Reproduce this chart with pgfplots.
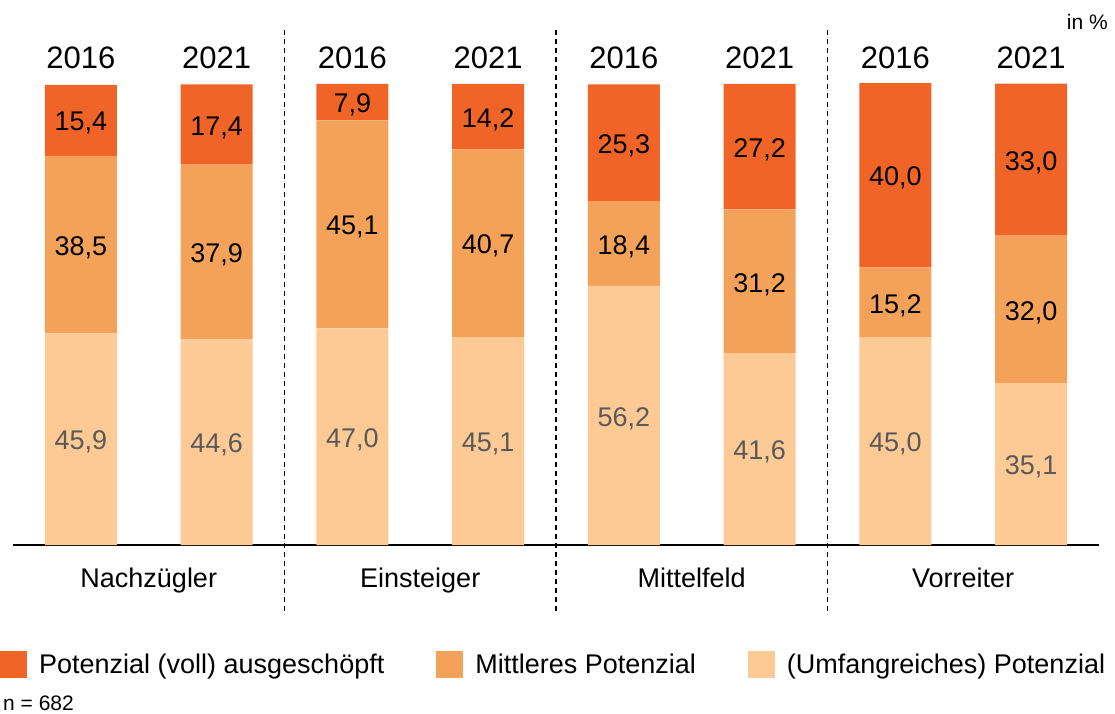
\documentclass[border=0pt]{standalone}
\usepackage{fontspec}
\setmainfont{Liberation Sans}
\usepackage{pgfplots}
\pgfplotsset{compat=1.18}

\definecolor{voll}{HTML}{F06428}
\definecolor{mittel}{HTML}{F4A259}
\definecolor{umfang}{HTML}{FDCA96}
\definecolor{grautext}{HTML}{595959}

\newcommand{\fs}[1]{\fontsize{#1}{#1}\selectfont}

\begin{document}
\begin{tikzpicture}
\path[use as bounding box] (0,0) rectangle (1115pt,713pt);

% stacked bars
\begin{axis}[
  at={(13pt,168pt)}, anchor=south west,
  scale only axis, width=1086pt, height=461pt,
  ybar stacked, bar width=72pt,
  xmin=-0.5, xmax=7.5, ymin=0, ymax=100,
  axis x line=bottom, axis y line=none,
  x axis line style={-, line width=1.6pt},
  xtick={0.5,2.5,4.5,6.5},
  xticklabels={Nachzügler,Einsteiger,Mittelfeld,Vorreiter},
  major tick length=0pt,
  xticklabel style={font=\fs{27}, yshift=-19pt},
  clip=false,
  reverse legend,
  legend columns=3,
  legend image code/.code={\fill[#1] (0pt,-13.5pt) rectangle (27pt,13.5pt);},
  legend style={at={(axis description cs:-0.012,-0.26)}, anchor=west,
    draw=none, inner sep=0pt, font=\fs{27},
    /tikz/every odd column/.append style={column sep=10pt},
    /tikz/every even column/.append style={column sep=50pt}},
]
\addplot[fill=umfang, draw=none] coordinates {
  (0,45.9) (1,44.6) (2,47.0) (3,45.1) (4,56.2) (5,41.6) (6,45.0) (7,35.1)};
\addplot[fill=mittel, draw=none] coordinates {
  (0,38.5) (1,37.9) (2,45.1) (3,40.7) (4,18.4) (5,31.2) (6,15.2) (7,32.0)};
\addplot[fill=voll, draw=none] coordinates {
  (0,15.4) (1,17.4) (2,7.9) (3,14.2) (4,25.3) (5,27.2) (6,40.0) (7,33.0)};
\legend{(Umfangreiches) Potenzial, Mittleres Potenzial, Potenzial (voll) ausgeschöpft}

\draw[black, line width=1.2pt, dash pattern=on 5pt off 4pt]
  (axis cs:1.5,111.7) -- (axis cs:1.5,-14.5);
\draw[black, line width=1.2pt, dash pattern=on 5pt off 4pt]
  (axis cs:3.5,111.7) -- (axis cs:3.5,-14.5);
\draw[black, line width=1.2pt, dash pattern=on 5pt off 4pt]
  (axis cs:5.5,111.7) -- (axis cs:5.5,-14.5);
\end{axis}

% value labels and years
\begin{axis}[
  at={(13pt,168pt)}, anchor=south west,
  scale only axis, width=1086pt, height=461pt,
  xmin=-0.5, xmax=7.5, ymin=0, ymax=100,
  hide y axis, axis x line=top,
  axis line style={draw=none},
  major tick length=0pt,
  xtick={0,...,7},
  xticklabels={2016,2021,2016,2021,2016,2021,2016,2021},
  xticklabel style={font=\fs{31}, yshift=12pt},
  clip=false,
  point meta=explicit symbolic,
  nodes near coords,
  every node near coord/.append style={anchor=center, font=\fs{27}, yshift=-3pt},
]
\addplot[draw=none, every node near coord/.append style={text=grautext}] coordinates {
  (0,22.95)[45,9] (1,22.3)[44,6] (2,23.5)[47,0] (3,22.55)[45,1]
  (4,28.1)[56,2] (5,20.8)[41,6] (6,22.5)[45,0] (7,17.55)[35,1]};
\addplot[draw=none, every node near coord/.append style={text=black}] coordinates {
  (0,65.15)[38,5] (1,63.55)[37,9] (2,69.55)[45,1] (3,65.45)[40,7]
  (4,65.4)[18,4] (5,57.2)[31,2] (6,52.6)[15,2] (7,51.1)[32,0]};
\addplot[draw=none, every node near coord/.append style={text=black}] coordinates {
  (0,92.1)[15,4] (1,91.2)[17,4] (2,96.05)[7,9] (3,92.9)[14,2]
  (4,87.25)[25,3] (5,86.4)[27,2] (6,80.2)[40,0] (7,83.6)[33,0]};
\end{axis}

\node[anchor=east, inner sep=0pt, font=\fs{21}] at (1108pt,691pt) {in \%};
\node[anchor=base west, inner sep=0pt, font=\fs{21}] at (3pt,3pt) {n = 682};
\end{tikzpicture}
\end{document}
